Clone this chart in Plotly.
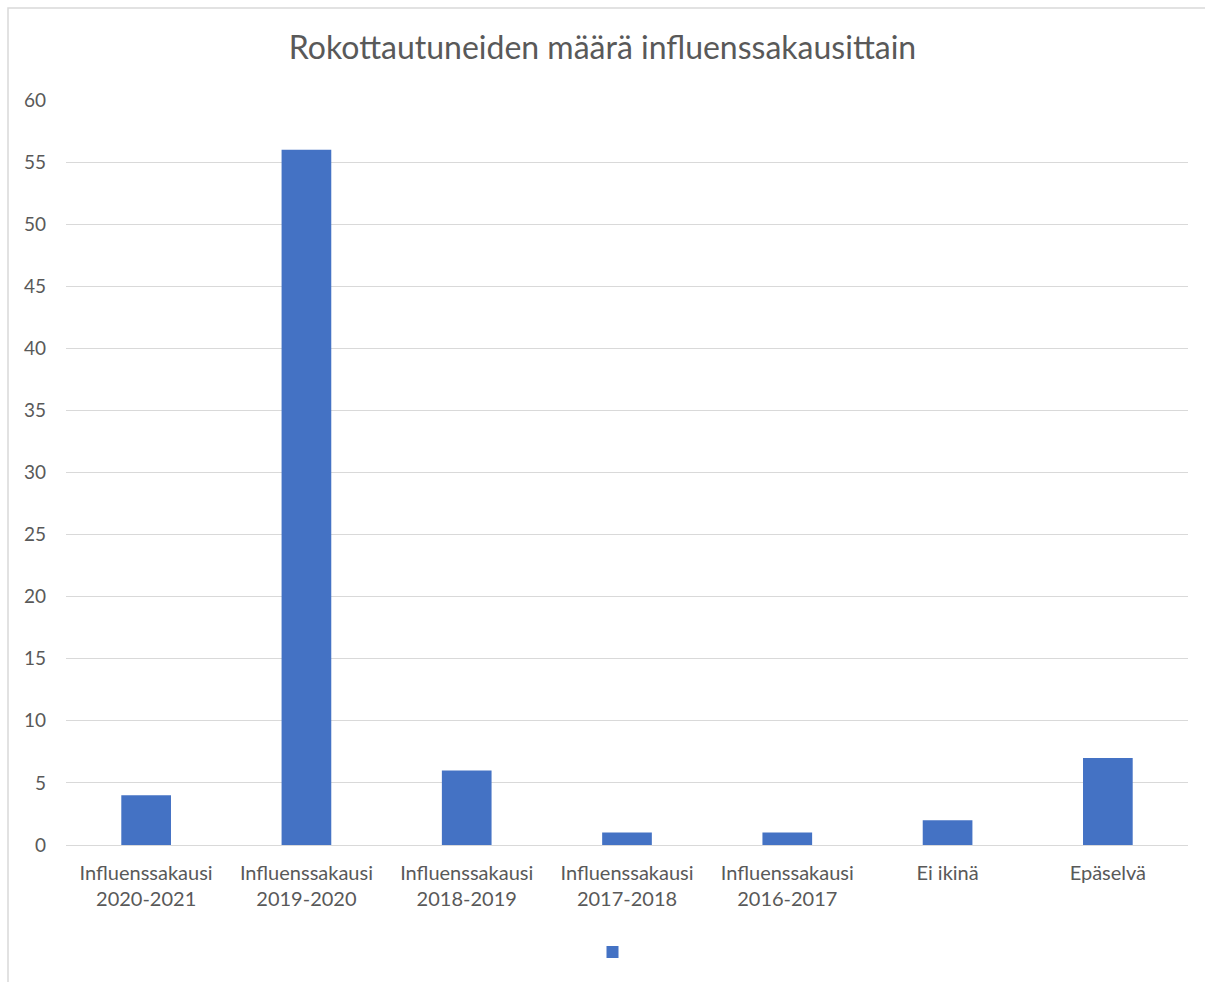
import plotly.graph_objects as go

categories = ["Influenssakausi<br>2020-2021", "Influenssakausi<br>2019-2020", "Influenssakausi<br>2018-2019",
              "Influenssakausi<br>2017-2018", "Influenssakausi<br>2016-2017", "Ei ikinä", "Epäselvä"]
values = [4, 56, 6, 1, 1, 2, 7]
y_ticks = list(range(0, 61, 5))

W, H = 1205, 982
ml, mr, mt, mb = 66, 17, 100, 137
pw, ph = W - ml - mr, H - mt - mb

fig = go.Figure(go.Bar(
    x=categories, y=values, marker=dict(color="#4472C4", line=dict(width=0)),
    name=" ", showlegend=True,
))

font_fam = "Lato, Open Sans, sans-serif"
fig.update_layout(
    width=W, height=H,
    margin=dict(l=ml, r=mr, t=mt, b=mb),
    paper_bgcolor="white", plot_bgcolor="white",
    bargap=0.69,
    title=dict(text="Rokottautuneiden määrä influenssakausittain", x=0.5, xanchor="center",
               y=1 - 48 / H, yanchor="middle",
               font=dict(family=font_fam, size=32, color="#595959")),
    font=dict(family=font_fam, color="#595959"),
    xaxis=dict(tickfont=dict(size=20, color="#595959"), showline=True, linecolor="#d9d9d9",
               linewidth=1, ticks="", showgrid=False, ticklabelstandoff=10),
    yaxis=dict(range=[0, 60], tickvals=y_ticks, tickfont=dict(size=19, color="#595959"),
               showgrid=True, gridcolor="#d9d9d9", gridwidth=1, zeroline=False,
               showline=False, ticks="", ticklabelstandoff=19),
    showlegend=True,
    legend=dict(orientation="h", x=0.5 - 10 / pw, xanchor="center", y=-(952 - 845) / ph, yanchor="middle",
                font=dict(size=13), itemwidth=30),
    shapes=[dict(type="rect", xref="paper", yref="paper",
                 x0=(8 - ml) / pw, x1=(W + 5 - ml) / pw,
                 y0=-(H + 5 - mt - ph) / ph, y1=1 + (mt - 8) / ph,
                 line=dict(color="#d9d9d9", width=1.5), layer="below")],
)

fig.write_html("out.html")
